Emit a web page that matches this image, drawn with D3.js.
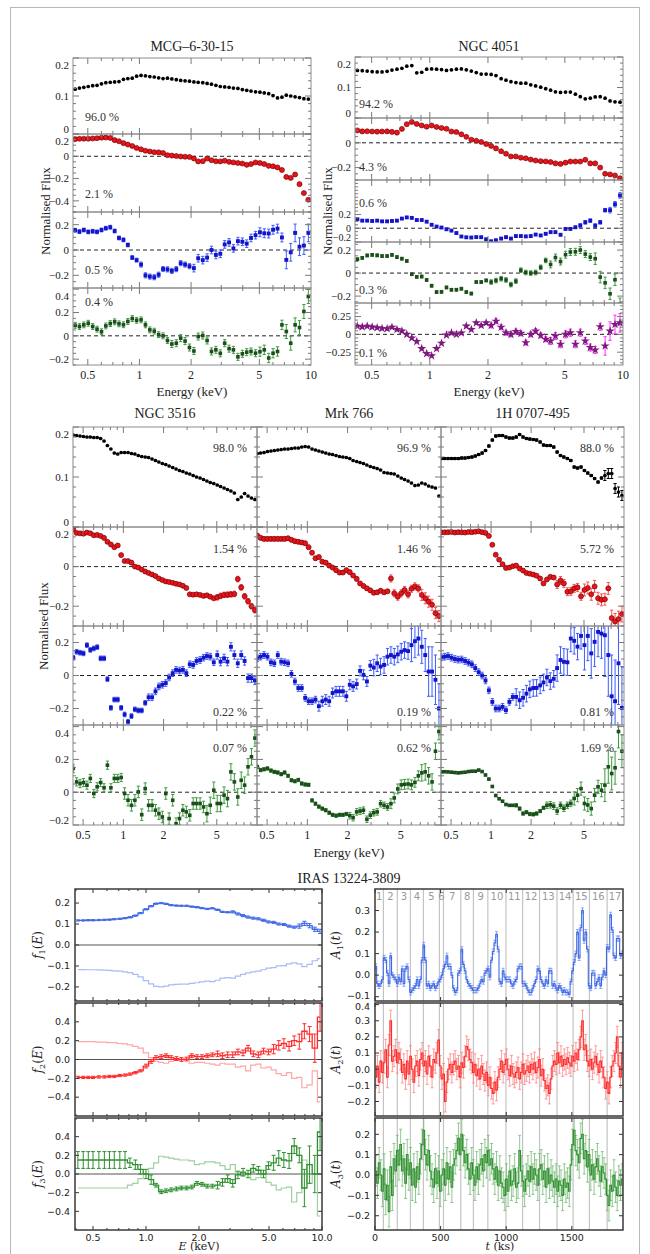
<!DOCTYPE html>
<html>
<head>
<meta charset="utf-8">
<script src="https://cdn.jsdelivr.net/npm/d3@7"></script>
<style>
  body { margin: 0; background: #fff; }
  svg { display: block; }
</style>
</head>
<body>
<svg id="chart"></svg>
<script>
// ---- shared energy grid (keV) for the PCA spectra ----
const energyGrid = [0.422,0.447,0.474,0.503,0.534,0.566,0.601,0.637,0.676,0.717,
  0.760,0.807,0.856,0.908,0.963,1.022,1.084,1.150,1.22,1.294,
  1.373,1.457,1.545,1.64,1.74,1.845,1.957,2.077,2.2,2.34,
  2.48,2.63,2.79,2.96,3.14,3.33,3.53,3.75,3.98,4.22,
  4.47,4.75,5.04,5.34,5.67,6.01,6.38,6.77,7.18,7.62,
  8.08,8.57,9.09,9.65];

// MCG-6-30-15
const mcgBlack = [0.118,0.121,0.123,0.125,0.127,0.128,0.132,0.135,0.136,0.137,
  0.138,0.144,0.146,0.147,0.152,0.154,0.153,0.151,0.150,0.148,
  0.146,0.147,0.145,0.143,0.141,0.140,0.139,0.137,0.136,0.135,
  0.133,0.131,0.128,0.125,0.124,0.123,0.121,0.120,0.117,0.115,
  0.113,0.111,0.110,0.108,0.106,0.101,0.095,0.097,0.102,0.100,
  0.098,0.096,0.093,0.092];
const mcgRed = [0.154,0.157,0.158,0.158,0.160,0.162,0.167,0.168,0.165,0.145,
  0.135,0.118,0.105,0.092,0.075,0.062,0.050,0.043,0.037,0.035,
  0.030,0.010,0.006,0.002,-0.002,-0.004,-0.006,-0.020,-0.046,-0.044,
  -0.020,-0.035,-0.045,-0.046,-0.040,-0.050,-0.055,-0.060,-0.065,-0.077,
  -0.070,-0.055,-0.060,-0.070,-0.086,-0.090,-0.100,-0.123,-0.185,-0.194,
  -0.163,-0.250,-0.330,-0.390];
const mcgBlue = [0.156,0.145,0.158,0.143,0.148,0.143,0.158,0.172,0.180,0.150,
  0.095,0.080,0.040,-0.060,-0.080,-0.115,-0.200,-0.210,-0.215,-0.195,
  -0.150,-0.153,-0.165,-0.151,-0.104,-0.115,-0.128,-0.143,-0.065,-0.080,
  -0.060,0.000,-0.039,-0.030,0.044,0.060,0.013,0.070,0.065,0.050,
  0.095,0.117,0.140,0.132,0.130,0.160,0.169,0.099,-0.078,-0.018,
  0.135,0.026,0.035,0.135];
const mcgGreen = [0.090,0.080,0.094,0.108,0.080,0.057,0.035,0.085,0.105,0.120,
  0.103,0.095,0.123,0.148,0.133,0.137,0.094,0.051,0.040,0.010,
  0.000,-0.040,-0.070,-0.063,-0.020,-0.045,-0.100,-0.130,-0.006,0.003,
  -0.040,-0.134,-0.120,-0.150,-0.063,-0.110,-0.120,-0.180,-0.154,-0.140,
  -0.134,-0.149,-0.136,-0.120,-0.190,-0.149,-0.134,0.094,0.037,-0.063,
  0.094,0.071,0.209,0.337];
const mcgPct = ['96.0 %', '2.1 %', '0.5 %', '0.4 %'];

// NGC 4051
const n4051Black = [0.156,0.155,0.154,0.152,0.151,0.151,0.153,0.157,0.160,0.163,
  0.170,0.172,0.148,0.150,0.160,0.161,0.160,0.159,0.156,0.158,
  0.160,0.161,0.158,0.154,0.149,0.144,0.144,0.143,0.139,0.129,
  0.124,0.119,0.116,0.114,0.114,0.109,0.105,0.101,0.096,0.091,
  0.086,0.084,0.085,0.085,0.078,0.070,0.063,0.065,0.069,0.070,
  0.065,0.056,0.053,0.052];
const n4051Red = [0.100,0.092,0.093,0.091,0.090,0.091,0.092,0.088,0.082,0.112,
  0.150,0.168,0.152,0.140,0.130,0.140,0.128,0.120,0.113,0.091,
  0.087,0.068,0.048,0.025,0.016,0.007,-0.010,-0.025,-0.045,-0.068,
  -0.088,-0.110,-0.110,-0.120,-0.125,-0.135,-0.143,-0.148,-0.150,-0.155,
  -0.166,-0.170,-0.160,-0.151,-0.151,-0.151,-0.137,-0.166,-0.166,-0.200,
  -0.250,-0.255,-0.263,-0.286];
const n4051Blue = [0.130,0.110,0.110,0.105,0.110,0.100,0.100,0.105,0.110,0.140,
  0.157,0.150,0.119,0.119,0.095,0.050,0.024,0.010,-0.015,-0.035,
  -0.070,-0.120,-0.132,-0.135,-0.129,-0.130,-0.160,-0.190,-0.175,-0.150,
  -0.130,-0.150,-0.114,-0.114,-0.119,-0.114,-0.092,-0.105,-0.081,-0.057,
  -0.057,-0.095,-0.010,-0.010,0.014,0.040,0.086,0.110,0.038,0.086,
  0.262,0.262,0.348,0.476];
const n4051Green = [0.120,0.132,0.153,0.158,0.154,0.148,0.148,0.158,0.139,0.125,
  0.105,-0.010,-0.033,-0.030,-0.060,-0.110,-0.165,-0.163,-0.125,-0.145,
  -0.145,-0.136,-0.165,-0.178,-0.078,-0.078,-0.064,-0.078,-0.065,-0.049,
  -0.060,-0.100,-0.070,0.025,0.005,0.000,0.005,0.050,0.110,0.075,
  0.135,0.100,0.160,0.183,0.185,0.200,0.165,0.139,0.125,-0.035,
  -0.085,-0.180,-0.058,-0.267];
const n4051Magenta = [0.115,0.105,0.115,0.102,0.093,0.083,0.079,0.100,0.069,0.046,
  0.000,-0.050,-0.100,-0.200,-0.270,-0.300,-0.200,-0.125,-0.010,0.020,
  0.000,0.020,0.116,0.069,0.162,0.125,0.162,0.125,0.185,0.100,
  0.023,0.000,0.040,0.014,-0.116,0.000,0.046,-0.014,-0.069,-0.093,
  -0.023,-0.139,0.000,0.023,-0.139,0.023,-0.093,-0.185,-0.218,0.107,
  -0.162,0.046,0.139,0.162];
const n4051Pct = ['94.2 %', '4.3 %', '0.6 %', '0.3 %', '0.1 %'];

// NGC 3516
const n3516Black = [0.184,0.183,0.182,0.181,0.180,0.180,0.179,0.179,0.177,0.172,
  0.163,0.156,0.148,0.146,0.149,0.149,0.149,0.147,0.146,0.143,
  0.141,0.140,0.139,0.136,0.133,0.130,0.127,0.125,0.122,0.119,
  0.116,0.113,0.111,0.108,0.106,0.103,0.100,0.098,0.095,0.092,
  0.089,0.087,0.084,0.081,0.078,0.075,0.072,0.068,0.055,0.060,
  0.067,0.062,0.058,0.055];
const n3516Red = [0.187,0.170,0.168,0.166,0.172,0.168,0.158,0.160,0.155,0.145,
  0.125,0.112,0.098,0.107,0.058,0.028,0.028,0.020,0.000,-0.005,
  -0.015,-0.025,-0.032,-0.040,-0.048,-0.060,-0.068,-0.075,-0.078,-0.082,
  -0.087,-0.090,-0.097,-0.108,-0.140,-0.142,-0.140,-0.143,-0.148,-0.145,
  -0.152,-0.160,-0.155,-0.148,-0.143,-0.142,-0.140,-0.138,-0.063,-0.105,
  -0.150,-0.175,-0.200,-0.220];
const n3516Blue = [0.108,0.144,0.138,0.134,0.184,0.155,0.164,0.172,0.104,0.104,
  -0.022,-0.196,-0.146,-0.146,-0.196,-0.236,-0.280,-0.246,-0.205,-0.212,
  -0.212,-0.166,-0.132,-0.132,-0.096,-0.066,-0.056,-0.046,-0.012,0.014,
  0.034,0.030,0.034,0.014,0.068,0.064,0.088,0.094,0.108,0.118,
  0.114,0.080,0.124,0.084,0.104,0.084,0.174,0.124,0.074,0.124,
  0.088,-0.016,-0.016,-0.030];
const n3516Green = [0.145,0.063,0.053,0.059,0.043,0.084,-0.008,0.033,0.059,0.027,
  0.165,0.027,0.084,0.084,0.090,-0.008,-0.049,-0.080,-0.049,0.002,
  -0.137,0.022,-0.080,-0.080,-0.110,-0.131,-0.151,-0.008,-0.161,-0.049,
  -0.192,-0.161,-0.110,-0.120,-0.141,-0.069,-0.069,-0.069,-0.090,-0.131,
  -0.080,0.012,-0.069,-0.069,-0.018,-0.039,0.124,0.063,-0.029,0.073,
  0.043,0.155,0.216,0.330];
const n3516Pct = ['98.0 %', '1.54 %', '0.22 %', '0.07 %'];

// Mrk 766
const mrkBlack = [0.147,0.148,0.149,0.151,0.152,0.153,0.154,0.155,0.156,0.156,
  0.157,0.158,0.158,0.160,0.161,0.160,0.156,0.154,0.152,0.150,
  0.148,0.146,0.145,0.143,0.141,0.140,0.139,0.137,0.133,0.131,
  0.129,0.127,0.124,0.121,0.119,0.117,0.114,0.109,0.108,0.107,
  0.106,0.102,0.098,0.095,0.092,0.088,0.083,0.084,0.088,0.086,
  0.082,0.080,0.078,0.062];
const mrkRed = [0.157,0.145,0.140,0.140,0.140,0.140,0.140,0.140,0.140,0.143,
  0.135,0.128,0.125,0.122,0.118,0.098,0.070,0.042,0.048,0.025,
  0.020,0.005,-0.005,-0.018,-0.030,-0.030,-0.018,-0.028,-0.045,-0.062,
  -0.085,-0.098,-0.110,-0.120,-0.132,-0.130,-0.122,-0.130,-0.125,-0.060,
  -0.135,-0.152,-0.135,-0.118,-0.140,-0.112,-0.100,-0.110,-0.143,-0.160,
  -0.177,-0.193,-0.235,-0.250];
const mrkBlue = [0.104,0.114,0.124,0.114,0.080,0.074,0.124,0.084,0.080,0.074,
  0.010,-0.036,-0.076,-0.076,-0.136,-0.156,-0.156,-0.146,-0.186,-0.156,
  -0.146,-0.156,-0.106,-0.096,-0.096,-0.096,-0.126,-0.056,-0.066,-0.052,
  0.028,0.004,-0.036,0.060,0.048,0.074,0.054,0.064,0.114,0.124,
  0.114,0.128,0.144,0.154,0.148,0.184,0.208,0.224,0.174,0.124,
  0.024,0.024,-0.026,-0.200];
const mrkGreen = [0.155,0.135,0.140,0.145,0.132,0.124,0.120,0.110,0.120,0.100,
  0.073,0.067,0.075,0.053,0.047,0.045,-0.050,-0.070,-0.088,-0.100,
  -0.110,-0.125,-0.138,-0.143,-0.138,-0.138,-0.133,-0.143,-0.155,-0.120,
  -0.115,-0.110,-0.165,-0.140,-0.125,-0.120,-0.070,-0.080,-0.090,-0.070,
  -0.035,0.020,0.045,0.048,0.050,0.045,0.060,0.100,0.118,0.124,
  0.100,0.063,0.250,0.370];
const mrkPct = ['96.9 %', '1.46 %', '0.19 %', '0.62 %'];

// 1H 0707-495
const h1Black = [0.137,0.137,0.137,0.137,0.137,0.137,0.138,0.138,0.139,0.140,
  0.142,0.145,0.148,0.153,0.162,0.174,0.182,0.183,0.183,0.180,
  0.178,0.178,0.180,0.185,0.180,0.177,0.176,0.175,0.174,0.170,
  0.164,0.163,0.163,0.160,0.150,0.143,0.140,0.137,0.133,0.120,
  0.118,0.120,0.113,0.108,0.103,0.097,0.090,0.098,0.103,0.107,
  0.107,0.077,0.070,0.063];
const h1Red = [0.173,0.173,0.174,0.175,0.172,0.174,0.173,0.172,0.175,0.174,
  0.176,0.178,0.174,0.170,0.155,0.110,0.060,0.035,0.012,-0.007,
  -0.005,0.002,0.005,-0.010,-0.020,-0.032,-0.036,-0.040,-0.046,-0.060,
  -0.085,-0.065,-0.052,-0.055,-0.090,-0.070,-0.085,-0.127,-0.125,-0.110,
  -0.105,-0.150,-0.118,-0.108,-0.140,-0.100,-0.160,-0.168,-0.165,-0.110,
  -0.260,-0.277,-0.265,-0.240];
const h1Blue = [0.110,0.114,0.118,0.108,0.100,0.096,0.097,0.088,0.078,0.068,
  0.045,0.020,0.000,-0.030,-0.090,-0.160,-0.200,-0.200,-0.190,-0.210,
  -0.160,-0.130,-0.130,-0.150,-0.135,-0.110,-0.084,-0.076,-0.075,-0.060,
  -0.042,-0.012,-0.034,-0.020,0.045,0.094,0.083,0.080,0.224,0.210,
  0.175,0.240,0.184,0.240,0.134,0.204,0.264,0.254,0.244,0.124,
  -0.126,-0.156,0.074,-0.196];
const h1Green = [0.124,0.125,0.124,0.122,0.120,0.118,0.120,0.122,0.126,0.128,
  0.128,0.135,0.126,0.105,0.080,0.035,-0.020,-0.040,-0.055,-0.075,
  -0.080,-0.080,-0.080,-0.100,-0.130,-0.122,-0.133,-0.135,-0.130,-0.115,
  -0.095,-0.080,-0.077,-0.085,-0.115,-0.080,-0.098,-0.080,-0.068,-0.038,
  -0.018,0.022,-0.069,-0.078,-0.100,-0.018,0.033,0.012,0.043,0.155,
  0.114,0.149,0.370,0.250];
const h1Pct = ['88.0 %', '5.72 %', '0.81 %', '1.69 %'];

// error sizes by energy band: [from keV, 1-sigma]
const errBands = {
  mcgRed: [[0, 0.008], [6, 0.014]],
  mcgBlue: [[0, 0.015], [1, 0.02], [2, 0.03], [5, 0.035], [7, 0.07]],
  mcgGreen: [[0, 0.025], [1.5, 0.03], [5, 0.04], [7, 0.06]],
  n4051Red: [[0, 0.006]],
  n4051Blue: [[0, 0.01], [2, 0.015], [6, 0.025], [8.5, 0.04]],
  n4051Green: [[0, 0.012], [2, 0.02], [4, 0.03], [7, 0.05]],
  n4051Magenta: [[0, 0.018], [2, 0.035], [4, 0.05], [8, 0.13]],
  n3516Red: [[0, 0.008], [5, 0.014]],
  n3516Blue: [[0, 0.014], [1.5, 0.02], [5, 0.025]],
  n3516Green: [[0, 0.025], [1, 0.035], [4, 0.05]],
  mrkRed: [[0, 0.01], [4, 0.018], [7, 0.028]],
  mrkBlue: [[0, 0.02], [1.2, 0.03], [3, 0.05], [6, 0.1], [8, 0.15]],
  mrkGreen: [[0, 0.01], [2, 0.02], [4, 0.03], [7, 0.05]],
  h1Black: [[0, 0.002], [7, 0.01]],
  h1Red: [[0, 0.008], [3, 0.02], [5, 0.03], [8, 0.04]],
  h1Blue: [[0, 0.02], [1.5, 0.05], [3, 0.08], [5, 0.15], [7, 0.25]],
  h1Green: [[0, 0.005], [1.5, 0.01], [2.5, 0.02], [4, 0.04], [7, 0.1]]
};

// IRAS 13224-3809 principal components
const irasEnergy = [0.41,0.44,0.47,0.50,0.54,0.58,0.62,0.66,0.71,0.76,
  0.81,0.87,0.93,1.0,1.07,1.14,1.22,1.3,1.39,1.49,
  1.59,1.7,1.82,1.95,2.08,2.23,2.38,2.55,2.72,2.91,
  3.11,3.33,3.56,3.8,4.07,4.35,4.65,4.97,5.31,5.68,
  6.07,6.5,6.95,7.43,7.94,8.5,9.1,9.75];
const irasF1 = [0.117,0.117,0.118,0.118,0.119,0.120,0.121,0.123,0.125,0.128,
  0.132,0.140,0.152,0.170,0.185,0.197,0.200,0.196,0.190,0.188,
  0.187,0.187,0.183,0.180,0.176,0.172,0.175,0.168,0.158,0.156,
  0.158,0.148,0.140,0.133,0.128,0.125,0.118,0.110,0.108,0.100,
  0.098,0.090,0.085,0.090,0.103,0.092,0.075,0.065];
const irasF2 = [-0.19,-0.19,-0.19,-0.19,-0.185,-0.185,-0.18,-0.18,-0.17,-0.165,
  -0.155,-0.14,-0.12,-0.07,-0.02,0.02,0.03,0.04,0.02,0.01,
  0.0,0.005,0.04,0.03,0.03,0.04,0.05,0.06,0.04,0.05,
  0.05,0.08,0.07,0.12,0.06,0.05,0.09,0.08,0.11,0.15,
  0.17,0.14,0.2,0.19,0.3,0.27,0.12,0.45];
const irasF3 = [0.15,0.15,0.15,0.15,0.15,0.15,0.15,0.15,0.15,0.15,
  0.12,0.10,0.05,0.0,-0.06,-0.12,-0.19,-0.18,-0.17,-0.16,
  -0.15,-0.15,-0.14,-0.10,-0.11,-0.13,-0.13,-0.12,-0.09,-0.05,
  -0.10,-0.01,0.02,0.0,0.06,0.04,0.0,0.09,0.12,0.17,
  0.15,0.14,0.30,0.20,-0.15,0.10,0.0,0.45];
const irasErr = {
  f1: [[0, 0.003], [3, 0.005], [7, 0.01]],
  f2: [[0, 0.012], [1, 0.02], [2.5, 0.03], [5, 0.05], [7, 0.08], [8.8, 0.15]],
  f3: [[0, 0.09], [0.8, 0.05], [1.1, 0.02], [2.5, 0.04], [5, 0.08], [7.5, 0.2]]
};

// light curves, bins of tStep ks
const tStep = 12.6;
const irasA1 = [0.04,-0.04,-0.05,-0.04,-0.02,0.08,0.07,0.01,-0.04,0.09,
  0.0,-0.01,-0.02,-0.04,-0.01,-0.03,0.03,-0.04,0.03,0.04,
  -0.02,-0.08,-0.07,-0.06,-0.05,-0.02,-0.05,-0.02,0.07,0.14,
  0.07,-0.05,-0.04,-0.06,-0.05,-0.04,-0.06,-0.05,-0.03,-0.02,
  0.0,0.03,0.05,0.09,0.04,0.04,0.0,-0.06,-0.08,-0.07,
  0.01,0.02,0.12,0.05,0.02,-0.02,-0.04,-0.05,-0.06,-0.07,
  -0.07,-0.07,-0.06,-0.04,-0.02,-0.03,0.01,0.02,0.03,-0.01,
  0.07,0.11,0.15,0.19,0.12,-0.03,-0.04,0.02,-0.01,-0.02,
  -0.02,-0.02,-0.04,-0.05,-0.03,-0.02,0.03,0.04,0.04,-0.04,
  -0.04,-0.05,-0.07,-0.08,-0.08,-0.06,-0.04,-0.02,0.03,0.02,
  -0.02,-0.04,-0.05,-0.02,-0.04,0.02,0.02,-0.05,-0.04,-0.06,
  -0.07,-0.05,-0.06,-0.08,-0.07,-0.08,-0.08,-0.09,-0.03,0.02,
  0.06,0.1,0.2,0.08,0.22,0.30,0.16,0.2,0.12,-0.05,
  -0.06,0.01,0.01,-0.05,-0.03,-0.01,-0.05,-0.01,0.02,0.0,
  0.13,0.12,0.28,0.21,0.09,0.08,0.17,0.17,0.09,0.1];
const irasA2 = [-0.05,0.02,-0.08,0.05,-0.02,0.04,0.12,-0.05,0.15,0.30,
  0.05,0.08,0.12,0.04,0.1,0.06,-0.02,0.03,-0.06,0.05,
  -0.03,0.08,0.0,-0.08,0.02,0.05,-0.04,0.06,0.1,0.02,
  0.05,-0.03,0.08,0.02,-0.05,0.06,0.04,0.1,0.18,0.02,
  -0.06,-0.03,-0.2,-0.08,0.0,0.03,-0.02,0.03,0.05,0.0,
  0.02,-0.05,0.04,0.01,0.08,0.14,0.12,0.06,0.04,-0.02,
  0.03,-0.04,0.0,-0.06,0.02,-0.03,-0.07,-0.02,-0.1,-0.05,
  -0.12,-0.15,-0.08,-0.13,-0.05,0.0,0.05,-0.02,0.03,0.06,
  0.0,-0.04,0.02,-0.03,-0.05,-0.02,0.01,-0.06,-0.02,0.03,
  -0.03,-0.01,0.02,-0.02,0.03,0.0,0.04,-0.02,0.01,0.06,
  -0.04,0.0,-0.07,-0.12,-0.1,-0.15,-0.06,0.02,0.05,0.03,
  0.1,0.04,0.08,0.02,0.06,0.03,0.07,0.04,0.02,0.08,
  0.05,0.1,0.06,0.12,0.2,0.3,0.12,0.15,0.05,0.02,
  0.06,0.0,0.04,0.08,0.03,-0.02,0.05,0.01,-0.05,-0.12,
  -0.08,-0.15,-0.05,0.02,0.05,0.1,0.2,0.02,-0.05,0.1];
const irasA3 = [0.02,-0.04,0.06,0.0,-0.08,0.03,-0.12,-0.05,-0.18,0.04,
  -0.1,0.08,0.02,0.12,0.05,0.15,0.02,0.08,-0.04,0.1,
  0.0,0.06,-0.05,0.03,-0.06,0.04,-0.02,0.08,0.15,0.22,
  0.1,0.05,0.12,0.02,-0.02,-0.06,0.03,-0.04,0.02,-0.08,
  0.0,0.03,-0.05,0.06,-0.02,0.04,-0.06,0.05,0.08,0.12,
  0.18,0.1,0.2,0.12,0.06,0.1,0.03,-0.02,0.06,0.0,
  -0.05,0.04,-0.02,0.05,0.08,0.02,0.1,0.06,0.12,0.05,
  0.08,0.03,-0.02,0.04,-0.05,0.02,-0.04,-0.06,-0.1,-0.02,
  -0.08,0.02,-0.05,-0.03,0.03,-0.06,-0.04,0.12,0.02,-0.03,
  -0.08,-0.02,0.02,-0.03,0.04,-0.02,0.03,0.0,-0.05,0.03,
  0.05,-0.02,0.02,-0.06,0.03,-0.04,0.0,-0.03,-0.06,-0.02,
  -0.08,-0.03,-0.05,-0.1,-0.02,-0.06,-0.04,-0.08,0.05,0.15,
  0.22,0.12,0.1,0.06,0.18,0.2,0.08,0.12,0.04,0.1,
  0.0,0.05,-0.02,0.04,0.08,0.02,-0.03,0.04,0.01,-0.02,
  -0.1,-0.15,-0.05,-0.08,0.0,-0.06,-0.1,-0.03,-0.05,-0.02];
const lcErr = { a1: 0.012, a2: 0.065, a3: 0.075 };
const orbitEdges = [64,170,270,369,491,522,654,750,860,998,1125,1254,1387,1510,1634,1769];
const orbitNames = ['1','2','3','4','5','6','7','8','9','10','11','12','13','14','15','16','17'];

// ---------------------------------------------------------------
const W = 650, H = 1254;
const svg = d3.select('#chart').attr('width', W).attr('height', H);
const serif = '"Liberation Serif", "DejaVu Serif", serif';
const sans = '"DejaVu Sans", sans-serif';
let clipCount = 0;

svg.append('rect')
  .attr('x', 10.5).attr('y', 7.5).attr('width', 629).attr('height', 1270)
  .attr('fill', 'none').attr('stroke', '#b8b8b8');

const STYLE = {
  black:   { sym: d3.symbolCircle, size: 11, fill: '#000', stroke: 'none', err: '#000' },
  red:     { sym: d3.symbolCircle, size: 20, fill: '#e8141c', stroke: '#600', err: '#ff5050' },
  blue:    { sym: d3.symbolSquare, size: 15, fill: '#1414c8', stroke: 'none', err: '#3c5cff' },
  green:   { sym: d3.symbolSquare, size: 13, fill: '#1d4d1d', stroke: 'none', err: '#3c9c3c' },
  magenta: { sym: d3.symbolStar, size: 26, fill: '#7d1a7d', stroke: 'none', err: '#ff30ff' }
};

function errAt(bands, e) {
  let v = 0;
  if (!bands) return 0;
  for (const b of bands) if (e >= b[0]) v = b[1];
  return v;
}

function fmtTick(v) {
  if (Math.abs(v) < 1e-9) return '0';
  return (v < 0 ? '\u2212' : '') + String(+Math.abs(v).toFixed(2));
}

function addClip(x0, y0, x1, y1) {
  const id = 'clip' + (clipCount++);
  svg.append('clipPath').attr('id', id).append('rect')
    .attr('x', x0).attr('y', y0).attr('width', x1 - x0).attr('height', y1 - y0);
  return `url(#${id})`;
}

// one spectral panel in the serif style (top and middle blocks)
function specPanel(c) {
  const x = d3.scaleLog().domain(c.dom).range([c.x0, c.x1]);
  const y = d3.scaleLinear().domain(c.yDom).range([c.y1, c.y0]);
  const g = svg.append('g');
  const plot = g.append('g').attr('clip-path', addClip(c.x0, c.y0, c.x1, c.y1));

  if (c.zero) {
    plot.append('line')
      .attr('x1', c.x0).attr('x2', c.x1).attr('y1', y(0)).attr('y2', y(0))
      .attr('stroke', '#222').attr('stroke-width', 1).attr('stroke-dasharray', '4,3');
  }

  const st = STYLE[c.kind];
  const pts = energyGrid.map((e, i) => ({ e, v: c.vals[i], err: errAt(c.bands, e) }))
    .filter(d => d.v != null);
  const withErr = pts.filter(d => d.err > 0);

  plot.append('g').selectAll('path').data(withErr).join('path')
    .attr('d', d => {
      const px = x(d.e), lo = y(d.v - d.err), hi = y(d.v + d.err);
      return `M${px},${lo}V${hi}M${px - 1.6},${lo}h3.2M${px - 1.6},${hi}h3.2`;
    })
    .attr('stroke', st.err).attr('stroke-width', 1).attr('fill', 'none');

  plot.append('g').selectAll('path').data(pts).join('path')
    .attr('transform', d => `translate(${x(d.e)},${y(d.v)})`)
    .attr('d', d3.symbol().type(st.sym).size(st.size))
    .attr('fill', st.fill).attr('stroke', st.stroke).attr('stroke-width', 0.6);

  // frame
  g.append('rect')
    .attr('x', c.x0).attr('y', c.y0).attr('width', c.x1 - c.x0).attr('height', c.y1 - c.y0)
    .attr('fill', 'none').attr('stroke', '#8c8c8c').attr('stroke-width', 1);

  // ticks
  const majorX = [0.5, 1, 2, 5, 10];
  const minorX = [0.4, 0.6, 0.7, 0.8, 0.9, 3, 4, 6, 7, 8, 9];
  const inX = v => v > c.dom[0] && v < c.dom[1];
  const tk = g.append('g').attr('stroke', '#7a7a7a').attr('stroke-width', 1);
  majorX.filter(inX).forEach(v => {
    tk.append('line').attr('x1', x(v)).attr('x2', x(v)).attr('y1', c.y1).attr('y2', c.y1 - 6);
    tk.append('line').attr('x1', x(v)).attr('x2', x(v)).attr('y1', c.y0).attr('y2', c.y0 + 6);
  });
  minorX.filter(inX).forEach(v => {
    tk.append('line').attr('x1', x(v)).attr('x2', x(v)).attr('y1', c.y1).attr('y2', c.y1 - 3);
    tk.append('line').attr('x1', x(v)).attr('x2', x(v)).attr('y1', c.y0).attr('y2', c.y0 + 3);
  });
  const inY = v => v >= c.yDom[0] - 1e-9 && v <= c.yDom[1] + 1e-9;
  c.yTicks.filter(inY).forEach(v => {
    tk.append('line').attr('x1', c.x0).attr('x2', c.x0 + 6).attr('y1', y(v)).attr('y2', y(v));
    tk.append('line').attr('x1', c.x1).attr('x2', c.x1 - 6).attr('y1', y(v)).attr('y2', y(v));
  });
  d3.range(Math.ceil(c.yDom[0] / c.yMinor) * c.yMinor, c.yDom[1] + 1e-9, c.yMinor)
    .filter(v => !c.yTicks.some(t => Math.abs(t - v) < 1e-6))
    .forEach(v => {
      tk.append('line').attr('x1', c.x0).attr('x2', c.x0 + 3).attr('y1', y(v)).attr('y2', y(v));
      tk.append('line').attr('x1', c.x1).attr('x2', c.x1 - 3).attr('y1', y(v)).attr('y2', y(v));
    });

  if (c.showY) {
    const ticks = c.yTicks.filter(inY);
    const gap = ticks.length > 1 ? Math.abs(y(ticks[0]) - y(ticks[1])) : 30;
    const fs = gap < 16 ? 10 : 11;
    ticks.forEach(v => {
      let py = y(v);
      if (py - c.y0 < 4) py += 7;
      if (c.y1 - py < 4) py -= 5;
      g.append('text')
        .attr('x', c.x0 - 4).attr('y', py).attr('dy', '0.35em')
        .attr('text-anchor', 'end').attr('font-family', serif).attr('font-size', fs)
        .attr('fill', '#222').text(fmtTick(v));
    });
  }
  if (c.showX) {
    majorX.filter(v => v >= c.dom[0] && v <= c.xLabelMax).forEach(v => {
      g.append('text')
        .attr('x', x(v)).attr('y', c.y1 + 14)
        .attr('text-anchor', 'middle').attr('font-family', serif).attr('font-size', 12)
        .attr('fill', '#222').text(String(v));
    });
  }
  if (c.pct) {
    g.append('text')
      .attr('x', c.pctAlign === 'end' ? c.x1 - 10 : c.x0 + c.pctDx)
      .attr('y', c.pctY).attr('dy', '0.35em')
      .attr('text-anchor', c.pctAlign === 'end' ? 'end' : 'start')
      .attr('font-family', serif).attr('font-size', 12).attr('fill', '#333')
      .text(c.pct);
  }
}

function label(txt, x, y, size, rotate) {
  const t = svg.append('text')
    .attr('x', x).attr('y', y).attr('text-anchor', 'middle').attr('dy', '0.35em')
    .attr('font-family', serif).attr('font-size', size).attr('fill', '#222').text(txt);
  if (rotate) t.attr('transform', `rotate(-90,${x},${y})`);
}

// ---- top block ----
const topDom = [0.41, 10];
const mcgRows = [
  { y0: 58, y1: 134, yDom: [0, 0.2], yTicks: [0, 0.1, 0.2], yMinor: 0.02, kind: 'black', vals: mcgBlack, zero: false, pctY: 117 },
  { y0: 134, y1: 212, yDom: [-0.5, 0.2], yTicks: [0.2, 0, -0.2, -0.4], yMinor: 0.05, kind: 'red', vals: mcgRed, bands: errBands.mcgRed, zero: true, pctY: 194 },
  { y0: 212, y1: 288, yDom: [-0.3, 0.3], yTicks: [0.2, 0, -0.2], yMinor: 0.05, kind: 'blue', vals: mcgBlue, bands: errBands.mcgBlue, zero: true, pctY: 270 },
  { y0: 288, y1: 365, yDom: [-0.25, 0.41], yTicks: [0.4, 0.2, 0, -0.2], yMinor: 0.05, kind: 'green', vals: mcgGreen, bands: errBands.mcgGreen, zero: true, pctY: 302 }
];
mcgRows.forEach((r, i) => specPanel(Object.assign({
  x0: 73, x1: 311, dom: topDom, showY: true, showX: i === mcgRows.length - 1,
  xLabelMax: 10, pct: mcgPct[i], pctDx: 12
}, r)));

const n4051Rows = [
  { y0: 57, y1: 118, yDom: [0, 0.2], yTicks: [0, 0.1, 0.2], yMinor: 0.02, kind: 'black', vals: n4051Black, zero: false, pctY: 104 },
  { y0: 118, y1: 180, yDom: [-0.3, 0.2], yTicks: [0, -0.2], yMinor: 0.05, kind: 'red', vals: n4051Red, bands: errBands.n4051Red, zero: true, pctY: 167 },
  { y0: 180, y1: 242, yDom: [-0.2, 0.7], yTicks: [0.2, 0, -0.2], yMinor: 0.05, kind: 'blue', vals: n4051Blue, bands: errBands.n4051Blue, zero: true, pctY: 203 },
  { y0: 242, y1: 303, yDom: [-0.26, 0.27], yTicks: [0.2, 0, -0.2], yMinor: 0.05, kind: 'green', vals: n4051Green, bands: errBands.n4051Green, zero: true, pctY: 290 },
  { y0: 303, y1: 365, yDom: [-0.43, 0.44], yTicks: [0.25, 0, -0.25], yMinor: 0.05, kind: 'magenta', vals: n4051Magenta, bands: errBands.n4051Magenta, zero: true, pctY: 353 }
];
n4051Rows.forEach((r, i) => specPanel(Object.assign({
  x0: 355, x1: 623, dom: topDom, showY: true, showX: i === n4051Rows.length - 1,
  xLabelMax: 10, pct: n4051Pct[i], pctDx: 4
}, r)));

label('MCG\u20136-30-15', 192, 46, 14);
label('NGC 4051', 489, 46, 14);
label('Normalised Flux', 45, 211, 13, true);
label('Normalised Flux', 327, 211, 13, true);
label('Energy (keV)', 192, 391, 13);
label('Energy (keV)', 489, 391, 13);

// ---- middle block ----
const midDom = [0.42, 10];
const midRowsY = [[427, 527], [527, 626], [626, 725], [725, 825]];
const midAxes = [
  { yDom: [0, 0.2], yTicks: [0, 0.1, 0.2], yMinor: 0.02, kind: 'black', zero: false },
  { yDom: [-0.3, 0.2], yTicks: [0.2, 0, -0.2], yMinor: 0.05, kind: 'red', zero: true },
  { yDom: [-0.3, 0.3], yTicks: [0.2, 0, -0.2], yMinor: 0.05, kind: 'blue', zero: true },
  { yDom: [-0.2, 0.41], yTicks: [0.4, 0.2, 0, -0.2], yMinor: 0.05, kind: 'green', zero: true }
];
const midPctY = [448, 549, 712, 748];
const midCols = [
  { x0: 73, x1: 257, name: 'NGC 3516', vals: [n3516Black, n3516Red, n3516Blue, n3516Green],
    bands: [null, errBands.n3516Red, errBands.n3516Blue, errBands.n3516Green], pct: n3516Pct },
  { x0: 257, x1: 441, name: 'Mrk 766', vals: [mrkBlack, mrkRed, mrkBlue, mrkGreen],
    bands: [null, errBands.mrkRed, errBands.mrkBlue, errBands.mrkGreen], pct: mrkPct },
  { x0: 441, x1: 624, name: '1H 0707-495', vals: [h1Black, h1Red, h1Blue, h1Green],
    bands: [errBands.h1Black, errBands.h1Red, errBands.h1Blue, errBands.h1Green], pct: h1Pct }
];
midCols.forEach((col, ci) => {
  midAxes.forEach((ax, ri) => specPanel(Object.assign({}, ax, {
    x0: col.x0, x1: col.x1, y0: midRowsY[ri][0], y1: midRowsY[ri][1], dom: midDom,
    vals: col.vals[ri], bands: col.bands[ri], showY: ci === 0, showX: ri === 3, xLabelMax: 5,
    pct: col.pct[ri], pctAlign: 'end', pctY: midPctY[ri]
  })));
  label(col.name, (col.x0 + col.x1) / 2, 413, 14);
});
label('Normalised Flux', 43, 626, 13, true);
label('Energy (keV)', 349, 852, 13);

// ---- bottom block: IRAS 13224-3809 ----
label('IRAS 13224-3809', 349, 878, 14);

function mplAxes(g, x, y, c) {
  const tk = g.append('g').attr('stroke', '#333').attr('stroke-width', 1);
  c.xMajor.forEach(v => {
    tk.append('line').attr('x1', x(v)).attr('x2', x(v)).attr('y1', c.y1).attr('y2', c.y1 - 4);
    tk.append('line').attr('x1', x(v)).attr('x2', x(v)).attr('y1', c.y0).attr('y2', c.y0 + 4);
  });
  (c.xMinor || []).forEach(v => {
    tk.append('line').attr('x1', x(v)).attr('x2', x(v)).attr('y1', c.y1).attr('y2', c.y1 - 2);
    tk.append('line').attr('x1', x(v)).attr('x2', x(v)).attr('y1', c.y0).attr('y2', c.y0 + 2);
  });
  c.yTicks.forEach(v => {
    tk.append('line').attr('x1', c.x0).attr('x2', c.x0 + 4).attr('y1', y(v)).attr('y2', y(v));
    tk.append('line').attr('x1', c.x1).attr('x2', c.x1 - 4).attr('y1', y(v)).attr('y2', y(v));
    let py = y(v);
    if (py - c.y0 < 4) py += 2.5;
    if (c.y1 - py < 6) py -= 1.5;
    g.append('text').attr('x', c.x0 - 5).attr('y', py).attr('dy', '0.35em')
      .attr('text-anchor', 'end').attr('font-family', sans).attr('font-size', 9.5)
      .attr('fill', '#222').text((v < 0 ? '\u2212' : '') + Math.abs(v).toFixed(1));
  });
  g.append('rect').attr('x', c.x0).attr('y', c.y0).attr('width', c.x1 - c.x0).attr('height', c.y1 - c.y0)
    .attr('fill', 'none').attr('stroke', '#3a3a3a').attr('stroke-width', 1.5);
  if (c.xLabels) {
    c.xMajor.forEach((v, i) => {
      g.append('text').attr('x', x(v)).attr('y', c.y1 + 10.5)
        .attr('text-anchor', 'middle').attr('font-family', sans).attr('font-size', 9.5)
        .attr('fill', '#222').text(c.xLabels[i]);
    });
  }
  // italic y label like f_1(E)
  const yl = g.append('text')
    .attr('transform', `translate(${c.yLabX},${(c.y0 + c.y1) / 2}) rotate(-90)`)
    .attr('text-anchor', 'middle').attr('font-family', '"DejaVu Serif", serif').attr('font-size', 12).attr('fill', '#222');
  yl.append('tspan').attr('font-style', 'italic').text(c.yLab[0]);
  yl.append('tspan').attr('font-size', 8).attr('dy', 3).text(c.yLab[1]);
  yl.append('tspan').attr('dy', -3).text('(');
  yl.append('tspan').attr('font-style', 'italic').text(c.yLab[2]);
  yl.append('tspan').text(')');
}

const irasRowsY = [[889, 1001], [1003, 1116], [1118, 1230]];
const fPanels = [
  { vals: irasF1, err: irasErr.f1, yDom: [-0.267, 0.267], yTicks: [-0.2, -0.1, 0, 0.1, 0.2], color: '#3f6ae6', light: '#aabcf4', sub: '1' },
  { vals: irasF2, err: irasErr.f2, yDom: [-0.6, 0.6], yTicks: [-0.4, -0.2, 0, 0.2, 0.4], color: '#ff2a2a', light: '#ffa6a6', sub: '2' },
  { vals: irasF3, err: irasErr.f3, yDom: [-0.6, 0.6], yTicks: [-0.4, -0.2, 0, 0.2, 0.4], color: '#2e8f2e', light: '#9fd09f', sub: '3' }
];
const fX = d3.scaleLog().domain([0.395, 10]).range([75, 322]);
fPanels.forEach((p, i) => {
  const [y0, y1] = irasRowsY[i];
  const y = d3.scaleLinear().domain(p.yDom).range([y1, y0]);
  const g = svg.append('g');
  const plot = g.append('g').attr('clip-path', addClip(75, y0, 322, y1));
  const pts = irasEnergy.map((e, k) => ({ e, v: p.vals[k], err: errAt(p.err, e) }));
  plot.append('line').attr('x1', 75).attr('x2', 322).attr('y1', y(0)).attr('y2', y(0))
    .attr('stroke', '#555').attr('stroke-width', 1.2);
  const line = d3.line().curve(d3.curveStep).x(d => fX(d.e));
  plot.append('path').datum(pts).attr('d', line.y(d => y(-d.v)))
    .attr('fill', 'none').attr('stroke', p.light).attr('stroke-width', 1.2);
  plot.append('g').selectAll('path').data(pts).join('path')
    .attr('d', d => {
      const px = fX(d.e), lo = y(d.v - d.err), hi = y(d.v + d.err);
      return `M${px},${lo}V${hi}M${px - 2},${lo}h4M${px - 2},${hi}h4`;
    })
    .attr('stroke', p.color).attr('stroke-width', 1).attr('fill', 'none');
  plot.append('path').datum(pts).attr('d', line.y(d => y(d.v)))
    .attr('fill', 'none').attr('stroke', p.color).attr('stroke-width', 1.3);
  mplAxes(g, fX, y, {
    x0: 75, x1: 322, y0, y1, yTicks: p.yTicks,
    xMajor: [0.5, 1, 2, 5, 10], xMinor: [0.4, 0.6, 0.7, 0.8, 0.9, 3, 4, 6, 7, 8, 9],
    xLabels: i === 2 ? ['0.5', '1.0', '2.0', '5.0', '10.0'] : null,
    yLabX: 42, yLab: ['f', p.sub, 'E']
  });
});

const aPanels = [
  { vals: irasA1, err: lcErr.a1, yDom: [-0.12, 0.4], yTicks: [-0.1, 0, 0.1, 0.2, 0.3], color: '#3f6ae6', errColor: '#6f8ff0', sub: '1' },
  { vals: irasA2, err: lcErr.a2, yDom: [-0.29, 0.41], yTicks: [-0.2, -0.1, 0, 0.1, 0.2, 0.3, 0.4], color: '#ff2a2a', errColor: '#ff8080', sub: '2' },
  { vals: irasA3, err: lcErr.a3, yDom: [-0.27, 0.28], yTicks: [-0.2, -0.1, 0, 0.1, 0.2], color: '#2e8f2e', errColor: '#6fb86f', sub: '3' }
];
const tX = d3.scaleLinear().domain([0, 1890]).range([375, 623]);
aPanels.forEach((p, i) => {
  const [y0, y1] = irasRowsY[i];
  const y = d3.scaleLinear().domain(p.yDom).range([y1, y0]);
  const g = svg.append('g');
  const plot = g.append('g').attr('clip-path', addClip(375, y0, 623, y1));
  orbitEdges.forEach(t => plot.append('line')
    .attr('x1', tX(t)).attr('x2', tX(t)).attr('y1', y0).attr('y2', y1)
    .attr('stroke', '#c4c4c4').attr('stroke-width', 1.2));
  const pts = p.vals.map((v, k) => ({ t: (k + 0.5) * tStep, v }));
  plot.append('g').selectAll('path').data(pts).join('path')
    .attr('d', d => {
      const px = tX(d.t), lo = y(d.v - p.err), hi = y(d.v + p.err);
      return `M${px},${lo}V${hi}M${px - 1.5},${lo}h3M${px - 1.5},${hi}h3`;
    })
    .attr('stroke', p.errColor).attr('stroke-width', 0.9).attr('fill', 'none').attr('opacity', 0.85);
  plot.append('path').datum(pts)
    .attr('d', d3.line().curve(d3.curveStep).x(d => tX(d.t)).y(d => y(d.v)))
    .attr('fill', 'none').attr('stroke', p.color).attr('stroke-width', 1.1);
  if (i === 0) {
    const bounds = [0].concat(orbitEdges, [1890]);
    orbitNames.forEach((name, k) => {
      g.append('text').attr('x', tX((bounds[k] + bounds[k + 1]) / 2)).attr('y', y0 + 11)
        .attr('text-anchor', 'middle').attr('font-family', sans).attr('font-size', 10)
        .attr('fill', '#999').text(name);
    });
  }
  mplAxes(g, tX, y, {
    x0: 375, x1: 623, y0, y1, yTicks: p.yTicks,
    xMajor: [0, 500, 1000, 1500], xMinor: [],
    xLabels: i === 2 ? ['0', '500', '1000', '1500'] : null,
    yLabX: 340, yLab: ['A', p.sub, 't']
  });
});

// x labels of the bottom block
const xl1 = svg.append('text').attr('x', 199).attr('y', 1250).attr('text-anchor', 'middle')
  .attr('font-family', '"DejaVu Serif", serif').attr('font-size', 11).attr('fill', '#222');
xl1.append('tspan').attr('font-style', 'italic').text('E');
xl1.append('tspan').text(' (keV)');
const xl2 = svg.append('text').attr('x', 500).attr('y', 1250).attr('text-anchor', 'middle')
  .attr('font-family', '"DejaVu Serif", serif').attr('font-size', 11).attr('fill', '#222');
xl2.append('tspan').attr('font-style', 'italic').text('t');
xl2.append('tspan').text(' (ks)');
</script>
</body>
</html>
